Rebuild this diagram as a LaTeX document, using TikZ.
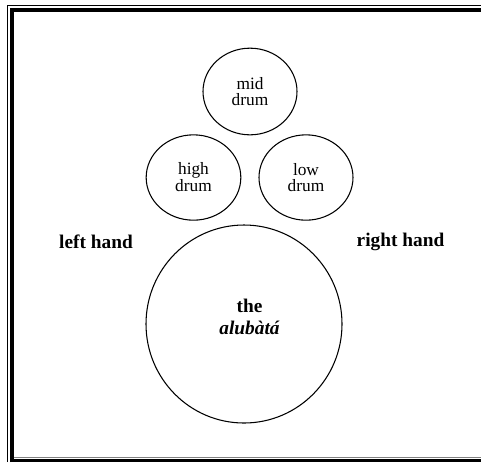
\documentclass[tikz,border=0pt]{standalone}
\usepackage{fontspec}
\setmainfont{Liberation Serif}
\usetikzlibrary{shapes.geometric,positioning}

\begin{document}
\begin{tikzpicture}[x=0.75pt,y=-0.75pt,
  drm/.style={ellipse,draw,line width=0.8pt,inner sep=0pt,align=center,
              font=\fontsize{13}{11.5}\selectfont},
  hnd/.style={font=\fontsize{14.5}{16.5}\selectfont\bfseries,align=center}
]
  \useasboundingbox (0,0) rectangle (481,462);

  % frame
  \draw[line width=0.9pt] (7.5,462) -- (7.5,5.5) -- (481,5.5);
  \draw[line width=3pt] (12,462) -- (12,9.5) -- (481,9.5);
  \draw[gray,line width=0.75pt] (13.5,457.8) -- (481,457.8);
  \draw[line width=2.5pt] (13.5,460.8) -- (481,460.8);

  % drums
  \node[drm,minimum width=70.5pt,minimum height=65pt] (mid) at (250,91.5) {mid\\drum};
  \node[drm,minimum width=71pt,minimum height=64pt] (high) at (193.5,177.5) {high\\drum};
  \node[drm,minimum width=70.5pt,minimum height=64pt] (low) at (306,177.5) {low\\drum};
  \node[drm,minimum width=147pt,minimum height=148.5pt] (alubata) at (244,324) {};
  \node[hnd] (alubatatxt) at (249.5,317) {the\\\textit{alubàtá}};

  % hands
  \node[hnd] (left) at (96,242) {left hand};
  \node[hnd] (right) at (400.5,242) {right hand};
\end{tikzpicture}
\end{document}
